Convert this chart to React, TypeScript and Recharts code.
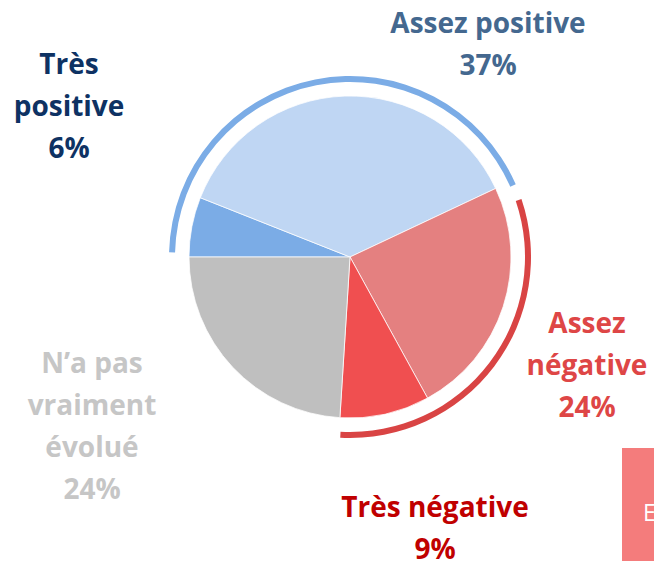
import { Cell, Pie, PieChart } from "recharts";

const CATEGORIES = [
  "Très positive",
  "Assez positive",
  "Assez négative",
  "Très négative",
  "N’a pas vraiment évolué",
];
const SHARES = [6, 37, 24, 9, 24];
const LABEL_LINES = [
  ["Très", "positive"],
  ["Assez positive"],
  ["Assez", "négative"],
  ["Très négative"],
  ["N’a pas", "vraiment", "évolué"],
];
const POSITIVE = [0, 1];
const NEGATIVE = [2, 3];

const SLICE_COLORS = ["#7BACE6", "#BFD6F3", "#E48080", "#F04F50", "#BFBFBF"];
const LABEL_COLORS = ["#0E3263", "#44688F", "#DE4646", "#C00000", "#C6C6C6"];
// where each label sits: centre x and first baseline
const LABEL_POS: [number, number][] = [
  [69, 74],
  [488, 33],
  [587, 333],
  [435, 517],
  [92, 373],
];
const LINE_GAP = 42;

const W = 654;
const H = 561;
const CX = 350;
const CY = 257;
const FONT = "'Open Sans', Lato, sans-serif";

const data = CATEGORIES.map((name, i) => ({ name, value: SHARES[i] }));
const total = SHARES.reduce((a, b) => a + b, 0);
const sumOf = (idx: number[]) => idx.reduce((s, i) => s + SHARES[i], 0);
const toDeg = (v: number) => (v / total) * 360;

const posEnd = 180 - toDeg(sumOf(POSITIVE));
const negEnd = posEnd - toDeg(sumOf(NEGATIVE));

const renderLabel = (props: any) => {
  const i = props.index as number;
  const [x, y] = LABEL_POS[i];
  const lines = [...LABEL_LINES[i], `${SHARES[i]}%`];
  return (
    <text
      key={`lbl-${i}`}
      x={x}
      y={y}
      textAnchor="middle"
      fill={LABEL_COLORS[i]}
      style={{ fontFamily: FONT, fontWeight: 700, fontSize: 28 }}
    >
      {lines.map((line, k) => (
        <tspan key={k} x={x} y={y + k * LINE_GAP}>
          {line}
        </tspan>
      ))}
    </text>
  );
};

export default function App() {
  return (
    <div
      style={{
        position: "fixed",
        left: 0,
        top: 0,
        width: W,
        height: H,
        overflow: "hidden",
        background: "#ffffff",
      }}
    >
      <PieChart width={W} height={H} margin={{ top: 0, right: 0, bottom: 0, left: 0 }}>
        <Pie
          data={data}
          dataKey="value"
          nameKey="name"
          cx={CX}
          cy={CY}
          outerRadius={161}
          startAngle={180}
          endAngle={-180}
          stroke="#ffffff"
          strokeWidth={0.75}
          label={renderLabel}
          labelLine={false}
          isAnimationActive={false}
        >
          {data.map((d, i) => (
            <Cell key={d.name} fill={SLICE_COLORS[i]} />
          ))}
        </Pie>
        <Pie
          data={[{ name: "positive", value: sumOf(POSITIVE) }]}
          dataKey="value"
          cx={CX}
          cy={CY}
          innerRadius={175}
          outerRadius={181}
          startAngle={178.5}
          endAngle={posEnd - 1.5}
          fill="#7BACE6"
          stroke="none"
          isAnimationActive={false}
        />
        <Pie
          data={[{ name: "negative", value: sumOf(NEGATIVE) }]}
          dataKey="value"
          cx={CX}
          cy={CY}
          innerRadius={175}
          outerRadius={181}
          startAngle={posEnd - 6.5}
          endAngle={negEnd + 0.5}
          fill="#D94444"
          stroke="none"
          isAnimationActive={false}
        />
      </PieChart>
      <div
        style={{
          position: "absolute",
          left: 622,
          top: 448,
          width: 200,
          height: 130,
          background: "#F47C7C",
          color: "#ffffff",
          fontFamily: FONT,
          fontSize: 23,
          lineHeight: "24px",
          paddingTop: 52,
          paddingLeft: 21,
          boxSizing: "border-box",
          whiteSpace: "nowrap",
        }}
      >
        En savoir plus
      </div>
    </div>
  );
}
